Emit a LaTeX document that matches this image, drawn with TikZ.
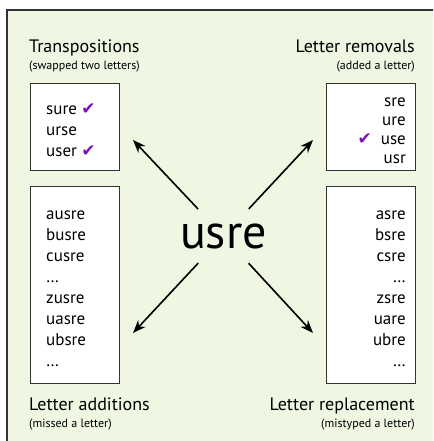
\documentclass[tikz,border=0pt]{standalone}
\usepackage{fontspec}
\setmainfont{PT Sans}
\newfontfamily\symfont{DejaVu Sans}
\usetikzlibrary{arrows.meta}

\definecolor{panelbg}{RGB}{239,246,226}
\definecolor{tickcol}{RGB}{123,18,184}
\newcommand{\tick}{{\color{tickcol}\symfont\fontsize{17}{17}\selectfont ✔}}

\tikzset{
  title/.style={font=\fontsize{18}{19}\selectfont, inner sep=0pt},
  subtitle/.style={font=\fontsize{12}{13}\selectfont, inner sep=0pt},
  listbox/.style={draw=black!80, fill=white, line width=1pt, minimum width=89pt},
  words/.style={font=\fontsize{17}{21}\selectfont, inner sep=0pt},
  pointer/.style={-{Stealth[length=13pt,width=10pt]}, line width=1.6pt}
}

\begin{document}
\begin{tikzpicture}[x=1pt, y=-1pt]
\clip (0,0) rectangle (433,441);
\fill[panelbg] (7,10) rectangle (445,450);
\draw[black!80, line width=1.2pt] (445,10) -- (7,10) -- (7,450);

% the four boxes
\node[listbox, minimum height=86pt] at (74.5,127) (transbox) {};
\node[listbox, minimum height=197pt] at (75,284.5) (addbox) {};
\node[listbox, minimum height=86pt] at (370.5,127) (rembox) {};
\node[listbox, minimum height=197pt] at (371,284.5) (replbox) {};

% headings
\node[title, anchor=base west] at (29,53) (transtitle) {Transpositions};
\node[subtitle, anchor=base west] at (29,70) (transsub) {(swapped two letters)};
\node[title, anchor=base east] at (415,53) (remtitle) {Letter removals};
\node[subtitle, anchor=base east] at (415,70) (remsub) {(added a letter)};
\node[title, anchor=base west] at (29,410) (addtitle) {Letter additions};
\node[subtitle, anchor=base west] at (29,427) (addsub) {(missed a letter)};
\node[title, anchor=base east] at (415,410) (repltitle) {Letter replacement};
\node[subtitle, anchor=base east] at (415,427) (replsub) {(mistyped a letter)};

% candidate words (base = last line)
\node[words, align=left, anchor=base west] at (46,156) (transwords)
  {sure \tick\\urse\\user \tick};
\node[words, align=left, anchor=base west] at (46,366.7) (addwords)
  {ausre\\busre\\cusre\\\dots\\zusre\\uasre\\ubsre\\\dots};
\node[words, align=right, anchor=base east, font=\fontsize{17}{19}\selectfont]
  at (406,163) (remwords) {sre\\ure\\\tick\ \ use\\usr};
\node[words, align=right, anchor=base east] at (406,366.7) (replwords)
  {asre\\bsre\\csre\\\dots\\zsre\\uare\\ubre\\\dots};

% the typo in the middle
\node[font=\fontsize{48}{48}\selectfont, inner sep=0pt, anchor=base]
  at (223.5,248) (typo) {usre};

\coordinate (tl) at (133,140);
\coordinate (tr) at (313,140);
\coordinate (bl) at (133,333);
\coordinate (br) at (313,333);

\draw[pointer, shorten <=37pt] (typo.center) -- (tl);
\draw[pointer, shorten <=37pt] (typo.center) -- (tr);
\draw[pointer, shorten <=37pt] (typo.center) -- (bl);
\draw[pointer, shorten <=37pt] (typo.center) -- (br);
\end{tikzpicture}
\end{document}
